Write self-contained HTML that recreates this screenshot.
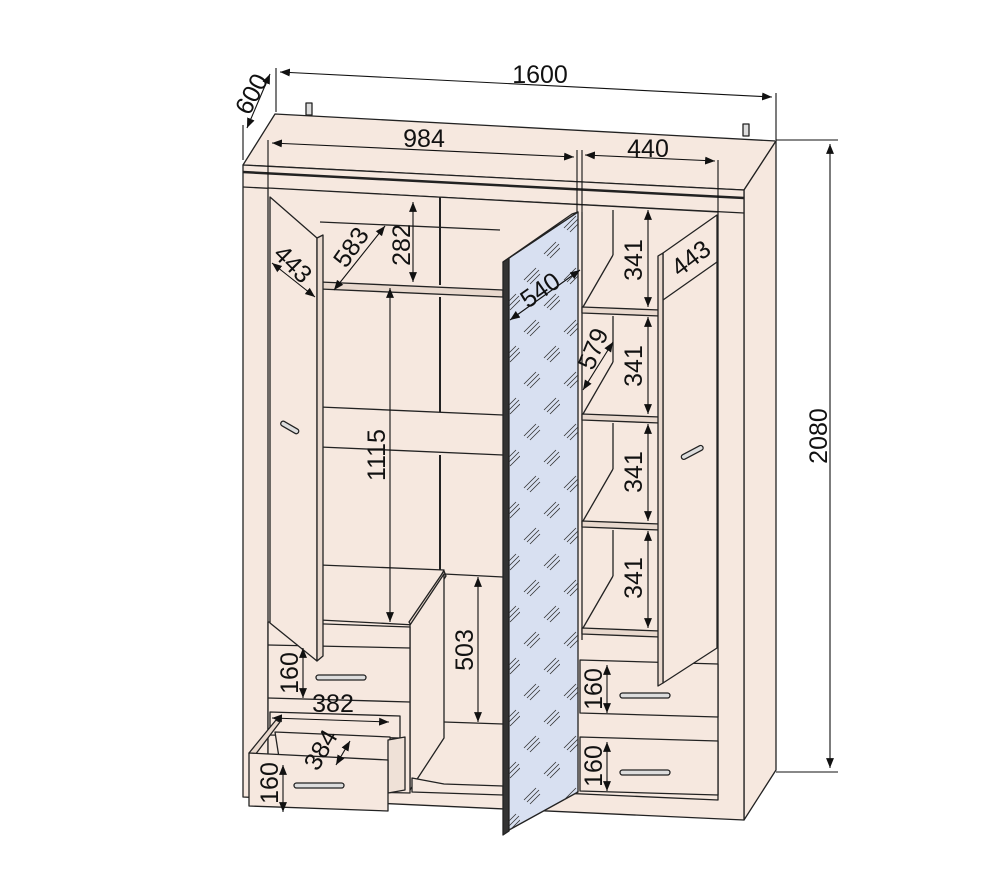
<!DOCTYPE html>
<html><head><meta charset="utf-8"><style>
html,body{margin:0;padding:0;background:#fff;}
svg{display:block}
text{font-family:"Liberation Sans",Arial,sans-serif;font-size:25px;fill:#111}
</style></head><body>
<svg width="1000" height="870" viewBox="0 0 1000 870" xmlns="http://www.w3.org/2000/svg">
<defs>
<marker id="a" viewBox="0 0 10 10" refX="10" refY="5" markerWidth="9" markerHeight="9" orient="auto-start-reverse"><path d="M0,1 L10,5 L0,9 z" fill="#111"/></marker>
<pattern id="m" width="40" height="52" patternUnits="userSpaceOnUse">
<g stroke="#333" stroke-width="0.8"><path d="M4,20 L16,8 M7,22 L19,10 M10,24 L20,14"/><path d="M24,46 L36,34 M27,48 L39,36 M30,50 L40,40"/></g></pattern>
</defs>
<g stroke="#222" stroke-width="1.3" fill="#f6e8df" stroke-linejoin="round">
<polygon points="243,165 275,114 776,141 744,190"/>
<polygon points="744,190 776,141 776,770 744,820"/>
<polygon points="243,165 744,190 744,820 243,797"/>
<line x1="243" y1="172" x2="744" y2="198" stroke-width="2.5"/>
<line x1="243" y1="187" x2="744" y2="213"/>
<polygon points="268,188 718,212 718,800 268,780" fill="#f6e8df"/>
<line x1="440" y1="197" x2="440" y2="285" stroke-width="2"/>
<line x1="440" y1="297" x2="440" y2="412" stroke-width="2"/>
<line x1="440" y1="455" x2="440" y2="570" stroke-width="2"/>
<line x1="320" y1="222" x2="500" y2="230"/>
<polygon points="320,282 503,290 503,297 320,289" fill="#e8d8cd"/>
<line x1="320" y1="407" x2="503" y2="415"/>
<line x1="320" y1="447" x2="503" y2="455"/>
<polygon points="320,565 444,570 415,625 320,620"/>
<polygon points="409,622 444,571 446,576 413,628" fill="#e8d8cd"/>
<polygon points="410,625 444,574 444,738 410,790"/>
<line x1="444" y1="574" x2="503" y2="577"/>
<line x1="444" y1="722" x2="503" y2="724"/>
<polygon points="412,778 444,784 503,786 503,795 412,792" fill="#f6e8df"/>
<polygon points="268,622 410,627 410,793 268,790" fill="#f6e8df"/>
<line x1="268" y1="645" x2="410" y2="648"/>
<line x1="268" y1="698" x2="410" y2="702"/>
<polygon points="270,712 400,716 400,738 270,735" fill="#f6e8df"/>
<polygon points="275,732 390,737 392,780 283,783" fill="#f6e8df"/>
<polygon points="249,753 276,720 280,722 255,755" fill="#e8d8cd"/>
<polygon points="388,740 405,737 405,790 388,793" fill="#efe1d7"/>
<polygon points="249,753 388,760 388,811 249,806"/>
<rect x="316" y="675" width="50" height="5" rx="2.5" fill="#ddd"/>
<rect x="294" y="783" width="50" height="5" rx="2.5" fill="#ddd"/>
<polygon points="270,197 317,238 317,661 270,623"/>
<polygon points="317,238 323,235 323,656 317,661" fill="#e8d8cd"/>
<rect x="280" y="425" width="20" height="5" rx="2.5" transform="rotate(30 290 427)" fill="#ddd"/>
<line x1="582" y1="212" x2="582" y2="640"/>
<polygon points="582,307 660,310 660,316 582,313" fill="#e8d8cd"/>
<polygon points="582,414 660,417 660,423 582,420" fill="#e8d8cd"/>
<polygon points="582,521 660,524 660,530 582,527" fill="#e8d8cd"/>
<polygon points="582,628 660,631 660,637 582,634" fill="#e8d8cd"/>
<line x1="613" y1="210" x2="613" y2="255"/><line x1="613" y1="255" x2="583" y2="307"/>
<line x1="613" y1="316" x2="613" y2="362"/><line x1="613" y1="362" x2="583" y2="414"/>
<line x1="613" y1="423" x2="613" y2="469"/><line x1="613" y1="469" x2="583" y2="521"/>
<line x1="613" y1="530" x2="613" y2="576"/><line x1="613" y1="576" x2="583" y2="628"/>
<polygon points="580,660 718,664 718,717 580,713"/>
<polygon points="580,737 718,741 718,795 580,791"/>
<rect x="620" y="693" width="50" height="5" rx="2.5" fill="#ddd"/>
<rect x="620" y="770" width="50" height="5" rx="2.5" fill="#ddd"/>
<polygon points="663,253 717,215 717,648 663,683"/>
<polygon points="658,256 663,253 663,683 658,686" fill="#e8d8cd"/>
<line x1="663" y1="300" x2="717" y2="262"/>
<rect x="680" y="450" width="24" height="5" rx="2.5" transform="rotate(-28 692 452)" fill="#ddd"/>
<polygon points="503,262 509,258 509,831 503,835" fill="#333"/>
<polygon points="509,258 578,212 578,792 509,830" fill="#d8e0f1"/>
<polygon points="509,258 578,212 578,792 509,830" fill="url(#m)" stroke="none"/>
<polygon points="503,262 572,214 578,212 509,258" fill="#e8d8cd"/>
<rect x="306" y="103" width="6" height="12" fill="#ddd"/>
<rect x="743" y="124" width="6" height="12" fill="#ddd"/>
</g>
<g stroke="#111" stroke-width="1.1" fill="none">
<line x1="276" y1="112" x2="276" y2="68"/>
<line x1="776" y1="140" x2="776" y2="93"/>
<line x1="280" y1="72" x2="772" y2="97" marker-start="url(#a)" marker-end="url(#a)"/>
<line x1="243" y1="160" x2="243" y2="125"/>
<line x1="247" y1="128" x2="270" y2="74" marker-start="url(#a)" marker-end="url(#a)"/>
<line x1="268" y1="188" x2="268" y2="140"/>
<line x1="577" y1="212" x2="577" y2="150"/>
<line x1="582" y1="212" x2="582" y2="150"/>
<line x1="718" y1="212" x2="718" y2="160"/>
<line x1="272" y1="143" x2="574" y2="157" marker-start="url(#a)" marker-end="url(#a)"/>
<line x1="585" y1="155" x2="715" y2="161" marker-start="url(#a)" marker-end="url(#a)"/>
<line x1="776" y1="140" x2="838" y2="140"/>
<line x1="776" y1="772" x2="838" y2="772"/>
<line x1="830" y1="144" x2="830" y2="768" marker-start="url(#a)" marker-end="url(#a)"/>
<line x1="413" y1="202" x2="413" y2="282" marker-start="url(#a)" marker-end="url(#a)"/>
<line x1="334" y1="290" x2="385" y2="226" marker-start="url(#a)" marker-end="url(#a)"/>
<line x1="272" y1="263" x2="315" y2="297" marker-start="url(#a)" marker-end="url(#a)"/>
<line x1="390" y1="288" x2="390" y2="622" marker-start="url(#a)" marker-end="url(#a)"/>
<line x1="478" y1="577" x2="478" y2="722" marker-start="url(#a)" marker-end="url(#a)"/>
<line x1="303" y1="648" x2="303" y2="698" marker-start="url(#a)" marker-end="url(#a)"/>
<line x1="283" y1="765" x2="283" y2="812" marker-start="url(#a)" marker-end="url(#a)"/>
<line x1="272" y1="718" x2="389" y2="722" marker-start="url(#a)" marker-end="url(#a)"/>
<line x1="336" y1="765" x2="350" y2="741" marker-start="url(#a)" marker-end="url(#a)"/>
<line x1="510" y1="320" x2="580" y2="270" marker-start="url(#a)" marker-end="url(#a)"/>
<line x1="583" y1="390" x2="613" y2="342" marker-start="url(#a)" marker-end="url(#a)"/>
<line x1="648" y1="210" x2="648" y2="307" marker-start="url(#a)" marker-end="url(#a)"/>
<line x1="648" y1="317" x2="648" y2="414" marker-start="url(#a)" marker-end="url(#a)"/>
<line x1="648" y1="424" x2="648" y2="521" marker-start="url(#a)" marker-end="url(#a)"/>
<line x1="648" y1="531" x2="648" y2="628" marker-start="url(#a)" marker-end="url(#a)"/>
<line x1="607" y1="665" x2="607" y2="713" marker-start="url(#a)" marker-end="url(#a)"/>
<line x1="607" y1="742" x2="607" y2="791" marker-start="url(#a)" marker-end="url(#a)"/>
</g>
<g>
<text x="540" y="83" text-anchor="middle">1600</text>
<text x="424" y="147" text-anchor="middle">984</text>
<text x="648" y="157" text-anchor="middle">440</text>
<text transform="translate(259,98) rotate(-62)" text-anchor="middle">600</text>
<text transform="translate(827,436) rotate(-90)" text-anchor="middle">2080</text>
<text transform="translate(410,245) rotate(-90)" text-anchor="middle">282</text>
<text transform="translate(358,252) rotate(-55)" text-anchor="middle">583</text>
<text transform="translate(287,270) rotate(45)" text-anchor="middle">443</text>
<text transform="translate(385,455) rotate(-90)" text-anchor="middle">1115</text>
<text transform="translate(473,650) rotate(-90)" text-anchor="middle">503</text>
<text transform="translate(298,673) rotate(-90)" text-anchor="middle">160</text>
<text transform="translate(278,783) rotate(-90)" text-anchor="middle">160</text>
<text x="333" y="712" text-anchor="middle">382</text>
<text transform="translate(328,754) rotate(-60)" text-anchor="middle">384</text>
<text transform="translate(545,297) rotate(-35)" text-anchor="middle">540</text>
<text transform="translate(601,352) rotate(-68)" text-anchor="middle">579</text>
<text transform="translate(642,260) rotate(-90)" text-anchor="middle">341</text>
<text transform="translate(642,366) rotate(-90)" text-anchor="middle">341</text>
<text transform="translate(642,472) rotate(-90)" text-anchor="middle">341</text>
<text transform="translate(642,578) rotate(-90)" text-anchor="middle">341</text>
<text transform="translate(696,265) rotate(-37)" text-anchor="middle">443</text>
<text transform="translate(602,689) rotate(-90)" text-anchor="middle">160</text>
<text transform="translate(602,766) rotate(-90)" text-anchor="middle">160</text>
</g>
</svg>
</body></html>
